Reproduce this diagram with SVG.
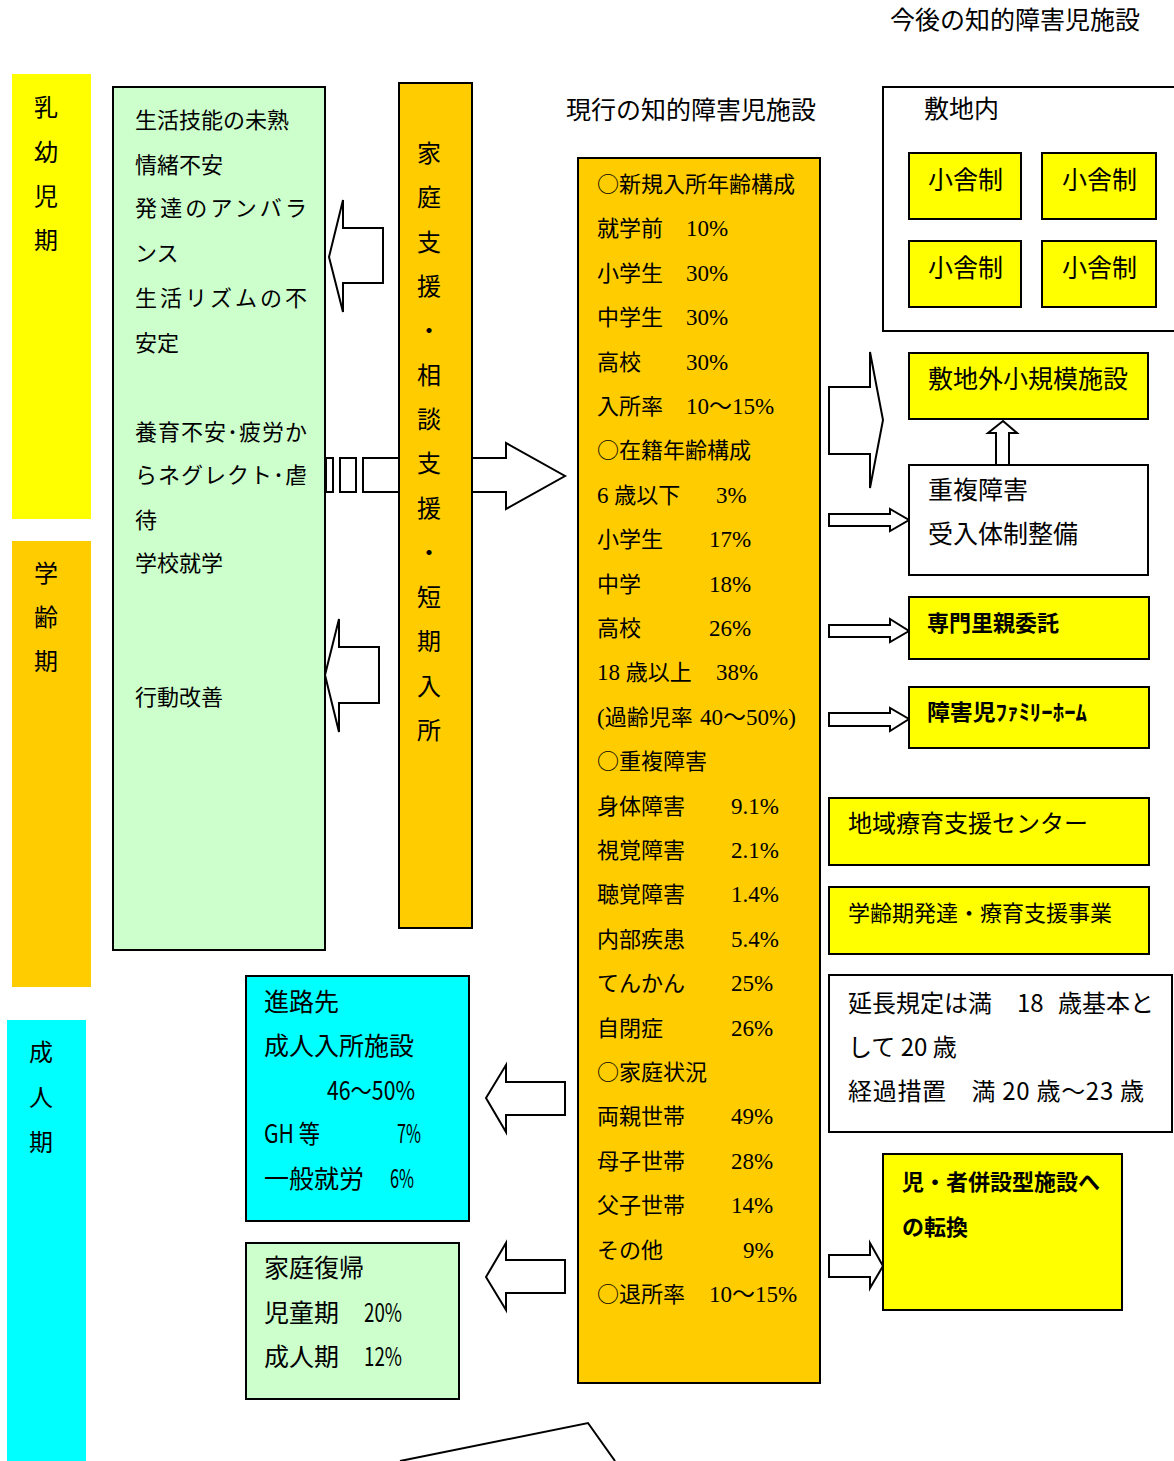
<svg xmlns="http://www.w3.org/2000/svg" width="1174" height="1461" viewBox="0 0 1174 1461">
<style>
text{font-family:"Noto Sans CJK JP","Noto Sans CJK SC",sans-serif;fill:#000}
.f22{font-size:22px}.f24{font-size:24px}.f25{font-size:25px}
.b{font-weight:bold}
.n{font-family:"Liberation Serif","Noto Sans CJK JP",serif;font-size:23px}
.box{stroke:#000;stroke-width:2}
.arr{fill:#fff;stroke:#000;stroke-width:2;stroke-linejoin:miter}
.vc{text-anchor:middle}
</style>
<rect width="1174" height="1461" fill="#fff"/>

<g id="connectors">
  <polygon class="arr" points="383,228 343,228 343,200 329,257 343,312 343,283 383,283"/>
  <polygon class="arr" points="379,647 339,647 339,619 325,675 339,732 339,703 379,703"/>
  <rect class="arr" x="326" y="458" width="7" height="34"/>
  <rect class="arr" x="340" y="458" width="16" height="34"/>
  <polygon class="arr" points="363,458 506,458 506,443 565,476 506,509 506,492 363,492"/>
  <polygon class="arr" points="829,387 870,387 870,352 883,420 870,488 870,454 829,454"/>
  <polygon class="arr" points="829,514 890,514 890,509 909,520 890,531 890,526 829,526"/>
  <polygon class="arr" points="1003,421 1017,433 1009,433 1009,465 996,465 996,433 988,433"/>
  <polygon class="arr" points="829,625 890,625 890,619 909,631 890,642 890,637 829,637"/>
  <polygon class="arr" points="829,713 890,713 890,708 909,719 890,731 890,726 829,726"/>
  <polygon class="arr" points="829,1255 870,1255 870,1243 883,1266 870,1288 870,1277 829,1277"/>
  <polygon class="arr" points="565,1082 506,1082 506,1065 486,1098 506,1132 506,1115 565,1115"/>
  <polygon class="arr" points="565,1260 506,1260 506,1243 486,1277 506,1310 506,1293 565,1293"/>
  <polyline points="400,1461 588,1423 615,1461" fill="none" stroke="#000" stroke-width="2"/>
</g>

<g id="band-infant">
  <rect x="12" y="74" width="79" height="445" fill="#FFFF00"/>
  <text class="f24 vc" x="46"><tspan y="116">乳</tspan><tspan x="46" y="161">幼</tspan><tspan x="46" y="205">児</tspan><tspan x="46" y="249">期</tspan></text>
</g>
<g id="band-school">
  <rect x="12" y="541" width="79" height="446" fill="#FFCC00"/>
  <text class="f24 vc" x="46"><tspan y="582">学</tspan><tspan x="46" y="626">齢</tspan><tspan x="46" y="670">期</tspan></text>
</g>
<g id="band-adult">
  <rect x="7" y="1020" width="79" height="441" fill="#00FFFF"/>
  <text class="f24 vc" x="41"><tspan y="1061">成</tspan><tspan x="41" y="1106">人</tspan><tspan x="41" y="1151">期</tspan></text>
</g>

<g id="issues">
  <rect class="box" x="113" y="87" width="212" height="863" fill="#CCFFCC"/>
  <text class="f22" x="135">
    <tspan x="135" y="128">生活技能の未熟</tspan>
    <tspan x="135" y="173">情緒不安</tspan>
    <tspan x="135" y="216" textLength="172" lengthAdjust="spacing">発達のアンバラ</tspan>
    <tspan x="135" y="261">ンス</tspan>
    <tspan x="135" y="306" textLength="172" lengthAdjust="spacing">生活リズムの不</tspan>
    <tspan x="135" y="351">安定</tspan>
    <tspan x="135" y="440" textLength="172" lengthAdjust="spacing">養育不安･疲労か</tspan>
    <tspan x="135" y="483" textLength="172" lengthAdjust="spacing">らネグレクト･虐</tspan>
    <tspan x="135" y="528">待</tspan>
    <tspan x="135" y="571">学校就学</tspan>
    <tspan x="135" y="705">行動改善</tspan>
  </text>
</g>

<g id="family-support">
  <rect class="box" x="399" y="83" width="73" height="845" fill="#FFCC00"/>
  <text class="f24 vc">
    <tspan x="429" y="162">家</tspan><tspan x="429" y="206">庭</tspan><tspan x="429" y="251">支</tspan><tspan x="429" y="295">援</tspan><tspan x="429" y="339">・</tspan><tspan x="429" y="384">相</tspan><tspan x="429" y="428">談</tspan><tspan x="429" y="472">支</tspan><tspan x="429" y="517">援</tspan><tspan x="429" y="561">・</tspan><tspan x="429" y="606">短</tspan><tspan x="429" y="650">期</tspan><tspan x="429" y="695">入</tspan><tspan x="429" y="739">所</tspan>
  </text>
</g>

<g id="title-current">
  <text class="f25" x="566" y="119">現行の知的障害児施設</text>
</g>
<g id="title-future">
  <text class="f25" x="890" y="29">今後の知的障害児施設</text>
</g>

<g id="current-facility">
  <rect class="box" x="578" y="158" width="242" height="1225" fill="#FFCC00"/>
  <text class="f22">
    <tspan x="597" y="192">○新規入所年齢構成</tspan>
    <tspan x="597" y="236">就学前</tspan><tspan class="n" x="686" y="236">10%</tspan>
    <tspan x="597" y="281">小学生</tspan><tspan class="n" x="686" y="281">30%</tspan>
    <tspan x="597" y="325">中学生</tspan><tspan class="n" x="686" y="325">30%</tspan>
    <tspan x="597" y="370">高校</tspan><tspan class="n" x="686" y="370">30%</tspan>
    <tspan x="597" y="414">入所率</tspan><tspan class="n" x="686" y="414">10～15%</tspan>
    <tspan x="597" y="458">○在籍年齢構成</tspan>
    <tspan class="n" x="597" y="503">6 </tspan><tspan y="503">歳以下</tspan><tspan class="n" x="716" y="503">3%</tspan>
    <tspan x="597" y="547">小学生</tspan><tspan class="n" x="709" y="547">17%</tspan>
    <tspan x="597" y="592">中学</tspan><tspan class="n" x="709" y="592">18%</tspan>
    <tspan x="597" y="636">高校</tspan><tspan class="n" x="709" y="636">26%</tspan>
    <tspan class="n" x="597" y="680">18 </tspan><tspan y="680">歳以上</tspan><tspan class="n" x="716" y="680">38%</tspan>
    <tspan class="n" x="597" y="725">(</tspan><tspan y="725">過齢児率</tspan><tspan class="n" x="700" y="725">40～50%)</tspan>
    <tspan x="597" y="769">○重複障害</tspan>
    <tspan x="597" y="814">身体障害</tspan><tspan class="n" x="731" y="814">9.1%</tspan>
    <tspan x="597" y="858">視覚障害</tspan><tspan class="n" x="731" y="858">2.1%</tspan>
    <tspan x="597" y="902">聴覚障害</tspan><tspan class="n" x="731" y="902">1.4%</tspan>
    <tspan x="597" y="947">内部疾患</tspan><tspan class="n" x="731" y="947">5.4%</tspan>
    <tspan x="597" y="991">てんかん</tspan><tspan class="n" x="731" y="991">25%</tspan>
    <tspan x="597" y="1036">自閉症</tspan><tspan class="n" x="731" y="1036">26%</tspan>
    <tspan x="597" y="1080">○家庭状況</tspan>
    <tspan x="597" y="1124">両親世帯</tspan><tspan class="n" x="731" y="1124">49%</tspan>
    <tspan x="597" y="1169">母子世帯</tspan><tspan class="n" x="731" y="1169">28%</tspan>
    <tspan x="597" y="1213">父子世帯</tspan><tspan class="n" x="731" y="1213">14%</tspan>
    <tspan x="597" y="1258">その他</tspan><tspan class="n" x="743" y="1258">9%</tspan>
    <tspan x="597" y="1302">○退所率</tspan><tspan class="n" x="709" y="1302">10～15%</tspan>
  </text>
</g>

<g id="on-site">
  <rect class="box" x="883" y="87" width="300" height="244" fill="#fff"/>
  <text class="f25" x="924" y="118">敷地内</text>
</g>
<g id="unit-1">
  <rect class="box" x="909" y="153" width="112" height="66" fill="#FFFF00"/>
  <text class="f25" x="928" y="189">小舎制</text>
</g>
<g id="unit-2">
  <rect class="box" x="1042" y="153" width="114" height="66" fill="#FFFF00"/>
  <text class="f25" x="1062" y="189">小舎制</text>
</g>
<g id="unit-3">
  <rect class="box" x="909" y="241" width="112" height="66" fill="#FFFF00"/>
  <text class="f25" x="928" y="277">小舎制</text>
</g>
<g id="unit-4">
  <rect class="box" x="1042" y="241" width="114" height="66" fill="#FFFF00"/>
  <text class="f25" x="1062" y="277">小舎制</text>
</g>

<g id="off-site">
  <rect class="box" x="909" y="353" width="239" height="66" fill="#FFFF00"/>
  <text class="f25" x="928" y="388">敷地外小規模施設</text>
</g>
<g id="multiple-disability">
  <rect class="box" x="909" y="465" width="239" height="110" fill="#fff"/>
  <text class="f25"><tspan x="928" y="499">重複障害</tspan><tspan x="928" y="543">受入体制整備</tspan></text>
</g>
<g id="foster">
  <rect class="box" x="909" y="597" width="240" height="62" fill="#FFFF00"/>
  <text class="f22 b" x="927" y="631">専門里親委託</text>
</g>
<g id="family-home">
  <rect class="box" x="909" y="687" width="240" height="61" fill="#FFFF00"/>
  <text class="f22 b" x="927" y="720" textLength="160" lengthAdjust="spacingAndGlyphs">障害児ﾌｧﾐﾘｰﾎｰﾑ</text>
</g>
<g id="regional-center">
  <rect class="box" x="829" y="798" width="320" height="67" fill="#FFFF00"/>
  <text class="f24" x="848" y="832">地域療育支援センター</text>
</g>
<g id="school-age-support">
  <rect class="box" x="829" y="887" width="320" height="67" fill="#FFFF00"/>
  <text class="f22" x="848" y="921">学齢期発達・療育支援事業</text>
</g>
<g id="extension-rule">
  <rect class="box" x="829" y="975" width="343" height="157" fill="#fff"/>
  <text class="f24">
    <tspan x="848" y="1012">延長規定は満</tspan><tspan x="1017" y="1012">18</tspan><tspan x="1058" y="1012">歳基本と</tspan>
    <tspan x="848" y="1056">して 20 歳</tspan>
    <tspan x="848" y="1100" textLength="296" lengthAdjust="spacing">経過措置　満 20 歳～23 歳</tspan>
  </text>
</g>
<g id="combined-facility">
  <rect class="box" x="883" y="1154" width="239" height="156" fill="#FFFF00"/>
  <text class="f22 b"><tspan x="902" y="1190">児・者併設型施設へ</tspan><tspan x="902" y="1235">の転換</tspan></text>
</g>

<g id="career-path">
  <rect class="box" x="246" y="976" width="223" height="245" fill="#00FFFF"/>
  <text class="f25">
    <tspan x="264" y="1011">進路先</tspan>
    <tspan x="264" y="1055">成人入所施設</tspan>
    <tspan x="327" y="1100" textLength="88" lengthAdjust="spacingAndGlyphs">46～50%</tspan>
    <tspan x="264" y="1143" textLength="56" lengthAdjust="spacingAndGlyphs">GH 等</tspan><tspan x="397" y="1143" textLength="24" lengthAdjust="spacingAndGlyphs">7%</tspan>
    <tspan x="264" y="1188">一般就労</tspan><tspan x="390" y="1188" textLength="24" lengthAdjust="spacingAndGlyphs">6%</tspan>
  </text>
</g>
<g id="return-home">
  <rect class="box" x="246" y="1243" width="213" height="156" fill="#CCFFCC"/>
  <text class="f25">
    <tspan x="264" y="1277">家庭復帰</tspan>
    <tspan x="264" y="1322">児童期</tspan><tspan x="364" y="1322" textLength="38" lengthAdjust="spacingAndGlyphs">20%</tspan>
    <tspan x="264" y="1366">成人期</tspan><tspan x="364" y="1366" textLength="38" lengthAdjust="spacingAndGlyphs">12%</tspan>
  </text>
</g>
</svg>
